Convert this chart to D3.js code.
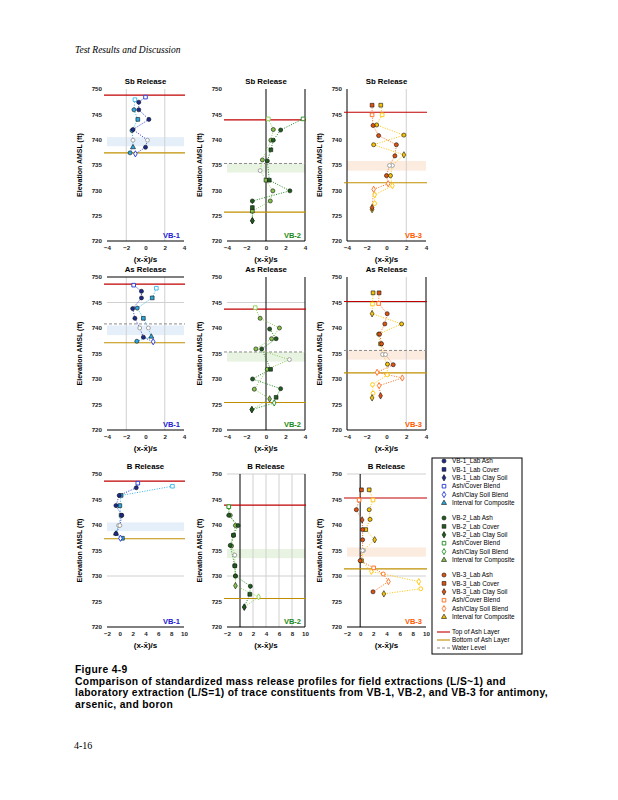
<!DOCTYPE html>
<html>
<head>
<meta charset="utf-8">
<script src="https://cdn.jsdelivr.net/npm/d3@7"></script>
<style>
  body { margin: 0; background: #fff; }
  svg { font-family: "Liberation Sans", Arial, sans-serif; }
</style>
</head>
<body>
<div id="page"></div>
<script>
// 1: DATA
const releases = ["Sb Release", "As Release", "B Release"];
const wells = ["VB-1", "VB-2", "VB-3"];
const yTicks = [720, 725, 730, 735, 740, 745, 750];
const xTicksSmall = [-4, -2, 0, 2, 4];
const xTicksWide = [-2, 0, 2, 4, 6, 8, 10];

// [ (x-xbar)/s , elevation ft , marker ]
const sbVB1Lab = [[0.0,748.4,"osquare"],[-0.7,747.4,"circle"],[-0.7,745.9,"circle"],[0.35,744.0,"circle"],[-1.3,742.0,"circle"],[0.2,739.9,"comp"],[0.0,738.5,"circle"],[-1.05,737.2,"odiamond"]];
const sbVB1Field = [[-1.1,747.9,"osquare"],[-1.2,745.9,"circle"],[-0.8,744.0,"square"],[-1.4,741.8,"circle"],[-1.3,739.9,"comp"],[-1.3,738.5,"triangle"],[-1.6,737.4,"circle"]];
const sbVB2Lab = [[3.8,744.1,"osquare"],[1.5,741.9,"circle"],[0.75,739.9,"circle"],[0.5,738.0,"square"],[0.14,735.8,"circle"],[0.34,732.0,"square"],[2.45,729.9,"circle"],[-1.4,727.9,"circle"],[-1.4,726.6,"square"],[-1.4,724.0,"diamond"]];
const sbVB2Field = [[0.24,744.1,"osquare"],[0.75,742.0,"circle"],[0.5,739.9,"circle"],[-0.37,736.0,"circle"],[-0.6,733.9,"comp"],[0.0,732.0,"square"],[0.7,729.9,"circle"],[0.44,727.9,"circle"],[-1.4,725.9,"square"],[-1.4,724.0,"diamond"]];
const sbVB3Lab = [[-1.46,746.8,"square"],[-1.46,744.9,"osquare"],[-1.36,742.8,"circle"],[-0.8,740.8,"circle"],[1.0,739.0,"circle"],[0.85,736.8,"circle"],[0.3,734.9,"comp"],[0.0,732.9,"circle"],[0.17,731.3,"odiamond"],[-1.3,730.2,"odiamond"],[-1.46,726.6,"diamond"]];
const sbVB3Field = [[-0.58,746.8,"square"],[-0.44,744.9,"osquare"],[-1.0,742.9,"circle"],[1.76,740.9,"circle"],[-1.3,739.0,"circle"],[1.76,737.0,"diamond"],[0.6,734.9,"comp"],[0.4,732.9,"circle"],[0.6,730.9,"odiamond"],[-1.2,729.1,"odiamond"],[-1.2,727.4,"ocircle"],[-1.46,726.2,"diamond"]];

const asVB1Lab = [[-1.23,748.4,"osquare"],[-0.42,747.2,"circle"],[-0.42,745.9,"circle"],[-1.33,743.8,"circle"],[-1.1,741.9,"circle"],[-0.6,740.0,"comp"],[-0.22,738.2,"circle"],[0.8,737.3,"odiamond"]];
const asVB1Field = [[1.13,747.8,"osquare"],[0.7,745.9,"square"],[-0.86,743.9,"circle"],[-0.22,741.9,"square"],[0.3,740.0,"comp"],[0.6,738.3,"triangle"],[-0.9,737.4,"circle"]];
const asVB2Lab = [[0.37,739.8,"circle"],[1.04,737.9,"circle"],[-0.44,735.9,"circle"],[0.47,731.9,"square"],[-1.38,730.0,"circle"],[1.5,728.1,"circle"],[1.04,726.4,"square"],[0.84,725.3,"odiamond"],[-1.45,724.0,"diamond"]];
const asVB2Field = [[-1.1,744.0,"osquare"],[-0.6,741.9,"circle"],[1.38,740.0,"circle"],[0.57,737.9,"circle"],[-1.04,735.9,"circle"],[2.4,733.8,"comp"],[0.13,731.9,"circle"],[-1.2,728.0,"circle"],[0.37,726.1,"diamond"],[-1.45,724.0,"diamond"]];
const asVB3Lab = [[-0.75,746.9,"square"],[-0.8,744.8,"osquare"],[0.07,742.8,"circle"],[-0.17,740.8,"circle"],[-0.7,738.8,"circle"],[-0.5,736.9,"circle"],[-0.1,734.8,"comp"],[0.68,732.8,"circle"],[-0.95,731.3,"odiamond"],[1.6,730.2,"odiamond"],[-0.75,728.7,"odiamond"],[-0.6,726.7,"diamond"]];
const asVB3Field = [[-1.36,746.9,"square"],[-1.42,744.7,"osquare"],[-1.46,742.8,"diamond"],[1.53,740.8,"circle"],[-0.8,738.8,"circle"],[-0.6,736.9,"square"],[-0.4,734.8,"comp"],[0.1,732.9,"circle"],[0.07,730.8,"ocircle"],[-1.42,728.9,"ocircle"],[-1.36,727.2,"ocircle"],[-1.46,726.3,"diamond"]];

const bVB1Lab = [[2.8,748.2,"osquare"],[2.56,747.3,"circle"],[-0.1,745.8,"circle"],[-0.6,743.8,"circle"],[0.3,741.9,"circle"],[0.0,739.9,"comp"],[-0.6,738.3,"circle"],[0.1,737.4,"odiamond"]];
const bVB1Field = [[8.2,747.6,"osquare"],[0.2,745.8,"square"],[0.0,743.8,"square"],[0.2,741.9,"square"],[-0.2,739.9,"comp"],[-0.6,738.3,"triangle"],[0.4,737.4,"square"]];
const bVB2Lab = [[-1.73,743.6,"osquare"],[-1.73,741.9,"circle"],[-0.3,739.9,"circle"],[-1.0,738.0,"square"],[-1.5,736.0,"circle"],[-0.8,732.0,"square"],[-0.7,730.0,"circle"],[1.6,728.0,"circle"],[1.5,726.4,"square"],[0.66,723.9,"diamond"]];
const bVB2Field = [[-1.73,743.6,"osquare"],[-1.5,741.9,"circle"],[-0.7,739.9,"circle"],[-1.0,738.0,"circle"],[-1.3,735.9,"circle"],[-0.8,734.1,"comp"],[-0.8,732.0,"circle"],[-0.7,730.0,"circle"],[-0.7,728.1,"diamond"],[2.86,725.9,"odiamond"],[0.66,723.9,"diamond"]];
const bVB3Lab = [[0.2,746.9,"square"],[-0.16,744.9,"osquare"],[-0.58,743.0,"circle"],[0.3,741.0,"diamond"],[0.37,739.1,"circle"],[0.37,737.1,"circle"],[0.37,735.0,"comp"],[0.0,733.0,"circle"],[2.05,731.6,"osquare"],[3.5,730.4,"ocircle"],[4.3,728.9,"odiamond"],[1.95,726.9,"circle"]];
const bVB3Field = [[1.37,746.9,"square"],[1.95,744.9,"osquare"],[1.37,743.0,"circle"],[1.5,741.1,"circle"],[0.84,739.1,"square"],[2.2,737.1,"diamond"],[0.5,735.0,"comp"],[0.2,733.0,"square"],[1.7,730.9,"odiamond"],[8.9,728.9,"odiamond"],[9.2,727.5,"ocircle"],[3.6,726.5,"diamond"]];

// reference elevations per panel: top of ash, bottom of ash, water level, composite band
const topAsh = [748.8, 743.9, 745.4, 748.6, 743.7, 745.2, 748.6, 743.9, 745.3];
const bottomAsh = [737.4, 725.7, 731.5, 737.1, 725.4, 731.2, 737.3, 725.6, 731.4];
const waterLevel = [null, 735.3, null, 740.8, 735.3, 735.6, null, null, null];
const bandTop = [740.5, 735.3, 735.8, 740.5, 735.3, 735.6, 740.5, 735.3, 735.6];
const bandBottom = [738.7, 733.5, 733.9, 738.6, 733.4, 733.8, 738.8, 733.5, 733.8];

const labSeries = [sbVB1Lab, sbVB2Lab, sbVB3Lab, asVB1Lab, asVB2Lab, asVB3Lab, bVB1Lab, bVB2Lab, bVB3Lab];
const fieldSeries = [sbVB1Field, sbVB2Field, sbVB3Field, asVB1Field, asVB2Field, asVB3Field, bVB1Field, bVB2Field, bVB3Field];

const legendGroups = [
  ["VB-1_Lab Ash", "VB-1_Lab Cover", "VB-1_Lab Clay Soil", "Ash/Cover Blend", "Ash/Clay Soil Blend", "Interval for Composite"],
  ["VB-2_Lab Ash", "VB-2_Lab Cover", "VB-2_Lab Clay Soil", "Ash/Cover Blend", "Ash/Clay Soil Blend", "Interval for Composite"],
  ["VB-3_Lab Ash", "VB-3_Lab Cover", "VB-3_Lab Clay Soil", "Ash/Cover Blend", "Ash/Clay Soil Blend", "Interval for Composite"]
];
const legendShapes = ["circle", "square", "diamond", "osquare", "odiamond", "triangle"];
const lineLegend = ["Top of Ash Layer", "Bottom of Ash Layer", "Water Level"];

// 2: STYLE / LAYOUT
const darkColor = ["#1c2a8c", "#1f5e1f", "#e0520e"];
const lightColor = ["#2aa8e0", "#86c24a", "#f7c200"];
const lineColor = ["#1f35d8", "#1f8a1f", "#ff6a1a"];
const fieldLine = ["#35b5ee", "#8ccf55", "#ffc400"];
const labelColor = ["#2020d0", "#1a8a1a", "#ff5a00"];
const bandColor = ["#e5effa", "#e8f3e2", "#fcebdf"];
const colLeft = [107, 227, 347], colRight = [184, 305, 426];
const rowTop = [89, 277, 474], rowBottom = [241, 430, 627];

const svg = d3.select("#page").append("svg")
  .attr("width", 618).attr("height", 800);

svg.append("text").attr("x", 75).attr("y", 53)
  .style("font-family", "Liberation Serif").style("font-style", "italic")
  .style("font-size", "9.5px").text("Test Results and Discussion");

const sym = {
  circle: d3.symbolCircle, square: d3.symbolSquare, diamond: d3.symbolDiamond,
  triangle: d3.symbolTriangle, osquare: d3.symbolSquare, odiamond: d3.symbolDiamond,
  ocircle: d3.symbolCircle, comp: d3.symbolCircle
};
const symSize = { circle: 13, square: 14, diamond: 12, triangle: 11, osquare: 13, odiamond: 11, ocircle: 12, comp: 12 };

function drawMarker(g, shape, cx, cy, fill, outline) {
  const hollow = shape.startsWith("o") || shape === "comp";
  g.append("path")
    .attr("d", d3.symbol().type(sym[shape]).size(symSize[shape])())
    .attr("transform", `translate(${cx},${cy})`)
    .attr("fill", hollow ? "#fff" : fill)
    .attr("stroke", shape === "comp" ? "#9a9a9a" : (hollow ? outline : "#111"))
    .attr("stroke-width", hollow ? 0.9 : 0.6);
}

// 3: PANELS
for (let r = 0; r < 3; r++) {
  for (let c = 0; c < 3; c++) {
    const i = r * 3 + c;
    const L = colLeft[c], R = colRight[c], T = rowTop[r], B = rowBottom[r];
    const dom = r === 2 ? [-2, 10] : [-4, 4];
    const xt = r === 2 ? xTicksWide : xTicksSmall;
    const x = d3.scaleLinear().domain(dom).range([L, R]);
    const y = d3.scaleLinear().domain([720, 750]).range([B, T]);
    const g = svg.append("g");

    // composite band
    g.append("rect").attr("x", L).attr("width", R - L)
      .attr("y", y(bandTop[i])).attr("height", y(bandBottom[i]) - y(bandTop[i]))
      .attr("fill", bandColor[c]);

    // grid lines
    let vGrey = [], vBlack = [], hGrey = [], hBlack = [720];
    if (c === 0) vGrey = r === 2 ? [] : [-2, 2];
    if (c === 1) { vBlack = [0, dom[1]]; if (r === 2) vGrey = [2, 4, 6, 8]; }
    if (c === 2) { vGrey = r === 2 ? [] : [2]; vBlack = r === 2 ? [0] : [dom[0]]; if (r === 1) vBlack.push(dom[1]); }
    if (r === 1) { hGrey = [745]; if (c === 0) hBlack.push(750); }
    if (r === 2) hGrey = c === 0 ? [730] : [730, 750];
    if (r === 0 && c > 0) hBlack = [720];

    vGrey.forEach(v => g.append("line").attr("x1", x(v)).attr("x2", x(v)).attr("y1", T).attr("y2", B)
      .attr("stroke", "#d0d0d0").attr("stroke-width", 1));
    hGrey.forEach(v => g.append("line").attr("x1", L).attr("x2", R).attr("y1", y(v)).attr("y2", y(v))
      .attr("stroke", "#d0d0d0").attr("stroke-width", 1));
    vBlack.forEach(v => g.append("line").attr("x1", x(v)).attr("x2", x(v)).attr("y1", T).attr("y2", B)
      .attr("stroke", "#000").attr("stroke-width", 1));
    hBlack.forEach(v => g.append("line").attr("x1", L).attr("x2", R).attr("y1", y(v)).attr("y2", y(v))
      .attr("stroke", "#000").attr("stroke-width", 1));

    // reference lines
    g.append("line").attr("x1", L - 3).attr("x2", R + 1).attr("y1", y(topAsh[i])).attr("y2", y(topAsh[i]))
      .attr("stroke", "#c00000").attr("stroke-width", 1.1);
    g.append("line").attr("x1", L - 3).attr("x2", R + 1).attr("y1", y(bottomAsh[i])).attr("y2", y(bottomAsh[i]))
      .attr("stroke", "#bf8f00").attr("stroke-width", 1.1);
    if (waterLevel[i] !== null) {
      g.append("line").attr("x1", L - 3).attr("x2", R + 1).attr("y1", y(waterLevel[i])).attr("y2", y(waterLevel[i]))
        .attr("stroke", "#8a8a8a").attr("stroke-width", 1).attr("stroke-dasharray", "3,2");
    }

    // dotted profiles
    const line = d3.line().x(d => x(d[0])).y(d => y(d[1]));
    g.append("path").attr("d", line(fieldSeries[i])).attr("fill", "none")
      .attr("stroke", fieldLine[c]).attr("stroke-width", 1).attr("stroke-dasharray", "1,1.5");
    g.append("path").attr("d", line(labSeries[i])).attr("fill", "none")
      .attr("stroke", lineColor[c]).attr("stroke-width", 1).attr("stroke-dasharray", "1,1.5");

    fieldSeries[i].forEach(d => drawMarker(g, d[2], x(d[0]), y(d[1]), lightColor[c], fieldLine[c]));
    labSeries[i].forEach(d => drawMarker(g, d[2], x(d[0]), y(d[1]), darkColor[c], lineColor[c]));

    // axes
    const yAxis = g.append("g").attr("transform", `translate(${L},0)`)
      .call(d3.axisLeft(y).tickValues(yTicks).tickSize(0).tickPadding(5).tickFormat(d3.format("d")));
    yAxis.select(".domain").remove();
    yAxis.selectAll("text").style("font-size", "6.2px").style("font-weight", "bold")
      .style("font-family", "Liberation Sans").attr("fill", "#222");
    const xAxis = g.append("g").attr("transform", `translate(0,${B})`)
      .call(d3.axisBottom(x).tickValues(xt).tickSize(0).tickPadding(5).tickFormat(d3.format("d")));
    xAxis.select(".domain").remove();
    xAxis.selectAll("text").style("font-size", "6.2px").style("font-weight", "bold")
      .style("font-family", "Liberation Sans").attr("fill", "#222");

    // labels
    g.append("text").attr("x", (L + R) / 2).attr("y", T - 5).attr("text-anchor", "middle")
      .style("font-size", "7.8px").style("font-weight", "bold").text(releases[r]);
    g.append("text").attr("transform", `translate(${L - 25},${(T + B) / 2}) rotate(-90)`)
      .attr("text-anchor", "middle").style("font-size", "7px").style("font-weight", "bold")
      .text("Elevation AMSL (ft)");
    g.append("text").attr("x", (L + R) / 2).attr("y", B + 21).attr("text-anchor", "middle")
      .style("font-size", "8px").style("font-weight", "bold").text("(x-x\u0304)/s");
    g.append("text").attr("x", R - 4).attr("y", B - 3).attr("text-anchor", "end")
      .style("font-size", "7.5px").style("font-weight", "bold").attr("fill", labelColor[c]).text(wells[c]);
  }
}

// 4: LEGEND
const leg = svg.append("g");
leg.append("rect").attr("x", 432).attr("y", 458).attr("width", 90).attr("height", 196)
  .attr("fill", "none").attr("stroke", "#000").attr("stroke-width", 1);
const groupStart = [461, 518, 575];
legendGroups.forEach((items, gi) => {
  items.forEach((txt, k) => {
    const yy = groupStart[gi] + k * 8.4;
    const shape = legendShapes[k];
    const fill = k === 5 ? lightColor[gi] : darkColor[gi];
    drawMarker(leg, shape, 444, yy, fill, lineColor[gi]);
    leg.append("text").attr("x", 452).attr("y", yy + 2.2).style("font-size", "6.4px").text(txt);
  });
});
const lineLegColor = ["#c00000", "#bf8f00", "#8a8a8a"];
lineLegend.forEach((txt, k) => {
  const yy = 632 + k * 8;
  leg.append("line").attr("x1", 437).attr("x2", 450).attr("y1", yy).attr("y2", yy)
    .attr("stroke", lineLegColor[k]).attr("stroke-width", 1.1)
    .attr("stroke-dasharray", k === 2 ? "3,2" : null);
  leg.append("text").attr("x", 452).attr("y", yy + 2.2).style("font-size", "6.4px").text(txt);
});

// 5: CAPTION
const cap = ["Figure 4-9",
  "Comparison of standardized mass release profiles for field extractions (L/S~1) and",
  "laboratory extraction (L/S=1) of trace constituents from VB-1, VB-2, and VB-3 for antimony,",
  "arsenic, and boron"];
cap.forEach((t, k) => {
  svg.append("text").attr("x", 75).attr("y", 673 + k * 11.7)
    .style("font-size", "10.3px").style("font-weight", "bold")
    .style("letter-spacing", "0.33px").text(t);
});
svg.append("text").attr("x", 74).attr("y", 749)
  .style("font-family", "Liberation Serif").style("font-size", "10px").text("4-16");
</script>
</body>
</html>
